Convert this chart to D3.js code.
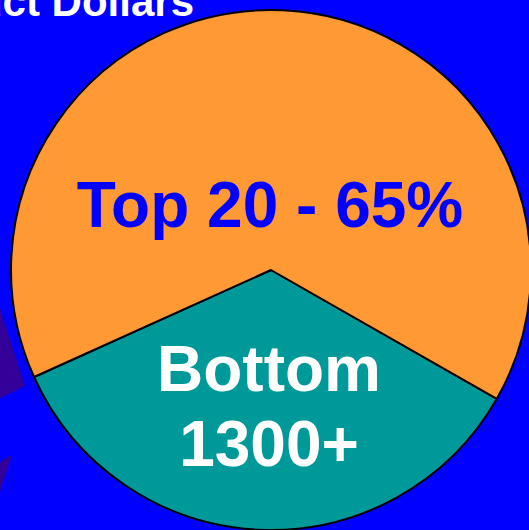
<!doctype html>
<html>
<head>
<style>
  body { margin: 0; background: #0000FF; overflow: hidden; }
  svg { display: block; }
  text { font-family: "Liberation Sans", Arial, sans-serif; font-weight: bold; }
</style>
<script src="https://d3js.org/d3.v7.min.js"></script>
</head>
<body>
<svg width="529" height="530"></svg>
<script>
// data
var categories = ["Bottom 1300+", "Top 20"];
var shares = [35, 65];
var sliceColors = ["#009999", "#FF9933"];

var svg = d3.select("svg"),
    cx = 271, cy = 270, radius = 260;

svg.append("rect").attr("width", 529).attr("height", 530).attr("fill", "#0000FF");

// purple decoration at the left edge (partly hidden slide art)
svg.append("polygon").attr("points", "0,308 25,386 0,398").attr("fill", "#330099");
svg.append("polygon").attr("points", "0,462 12,455 0,492").attr("fill", "#330099");

// cut off title
svg.append("text")
   .attr("x", 194).attr("y", 16)
   .attr("text-anchor", "end")
   .attr("font-size", "42px")
   .attr("fill", "#fff")
   .text("Product Dollars");

var pie = d3.pie().sort(null)
    .startAngle(119.7 * Math.PI / 180)
    .endAngle(119.7 * Math.PI / 180 + 2 * Math.PI);

var arc = d3.arc().innerRadius(0).outerRadius(radius);

var g = svg.append("g").attr("transform", "translate(" + cx + "," + cy + ")");

g.selectAll("path")
 .data(pie(shares))
 .enter().append("path")
 .attr("d", arc)
 .attr("fill", function(d, i) { return sliceColors[i]; })
 .attr("stroke", "#000")
 .attr("stroke-width", 2)
 .attr("stroke-linejoin", "round");

// labels
svg.append("text")
   .attr("x", 270).attr("y", 227)
   .attr("text-anchor", "middle")
   .attr("font-size", "64px")
   .attr("fill", "#0000FF")
   .text(categories[1] + " - " + shares[1] + "%");

var bottom = svg.append("text")
   .attr("text-anchor", "middle")
   .attr("font-size", "64px")
   .attr("fill", "#fff");
bottom.append("tspan").attr("x", 269).attr("y", 391).text("Bottom");
bottom.append("tspan").attr("x", 269).attr("y", 466).text("1300+");
</script>
</body>
</html>
